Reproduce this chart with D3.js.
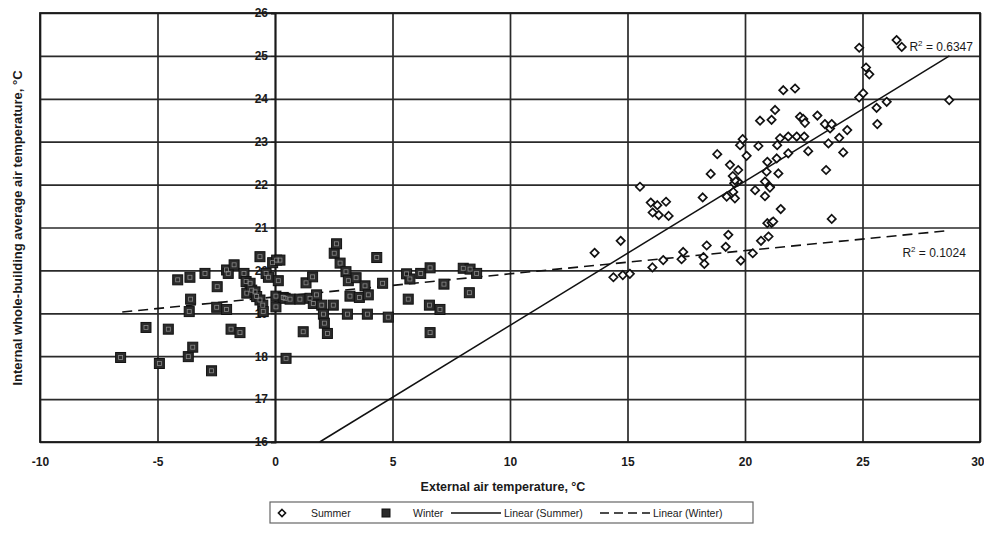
<!DOCTYPE html>
<html>
<head>
<meta charset="utf-8">
<script src="https://cdn.jsdelivr.net/npm/d3@7"></script>
<style>
    body { margin: 0; background: #fff; }
    svg { font-family: 'Liberation Sans', Arial, sans-serif; }
</style>
</head>
<body>
<svg id="chart" width="984" height="533"></svg>
<script>
// Summer points [external, internal]
const summerData = [
    [13.6, 20.41], [14.71, 20.69], [14.4, 19.84], [14.8, 19.89], [15.1, 19.92],
    [15.53, 21.95], [15.99, 21.58], [16.27, 21.52], [16.64, 21.6], [16.07, 21.35],
    [16.33, 21.29], [16.75, 21.27], [16.06, 20.07], [16.52, 20.24], [17.3, 20.26],
    [17.37, 20.43], [18.2, 21.7], [18.23, 20.31], [18.27, 20.15], [18.37, 20.58],
    [18.54, 22.25], [18.82, 22.71], [19.18, 20.55], [19.29, 20.83], [19.22, 21.72],
    [19.5, 21.83], [19.57, 21.68], [19.7, 22.07], [19.54, 22.03], [19.57, 22.1],
    [19.48, 22.2], [19.71, 22.34], [19.36, 22.46], [19.79, 22.92], [19.9, 23.06],
    [19.82, 20.23], [20.07, 22.67], [20.33, 20.4], [20.43, 21.87], [20.57, 22.9],
    [20.64, 23.49], [20.68, 20.69], [20.85, 21.73], [20.85, 22.07], [20.92, 22.3],
    [20.95, 22.53], [20.95, 21.1], [21.0, 20.79], [21.06, 21.95], [21.06, 21.93],
    [21.13, 21.11], [21.13, 23.51], [21.2, 21.14], [21.28, 23.74], [21.35, 22.61],
    [21.37, 22.92], [21.42, 22.26], [21.49, 23.08], [21.52, 21.43], [21.63, 24.2],
    [21.84, 23.12], [21.84, 22.73], [22.13, 24.24], [22.2, 23.12], [22.34, 23.58],
    [22.48, 23.53], [22.52, 23.12], [22.55, 23.44], [22.69, 22.78], [23.08, 23.61],
    [23.4, 23.41], [23.45, 22.34], [23.55, 22.96], [23.62, 23.31], [23.69, 23.41],
    [23.69, 21.2], [24.01, 23.09], [24.18, 22.75], [24.35, 23.27], [24.86, 25.19],
    [24.86, 24.03], [25.03, 24.13], [25.15, 24.73], [25.29, 24.57], [25.6, 23.79],
    [25.63, 23.41], [26.03, 23.93], [26.45, 25.37], [26.67, 25.21], [28.69, 23.97]
];

// Winter points [external, internal]
const winterData = [
    [-6.57, 17.97], [-5.49, 18.67], [-4.92, 17.83], [-4.54, 18.63], [-4.14, 19.78],
    [-3.69, 17.99], [-3.65, 19.04], [-3.62, 19.84], [-3.59, 19.33], [-3.5, 18.21],
    [-2.98, 19.93], [-2.7, 17.66], [-2.48, 19.14], [-2.46, 19.62], [-2.06, 19.09],
    [-2.06, 20.01], [-1.99, 19.93], [-1.87, 18.63], [-1.74, 20.13], [-1.49, 18.55],
    [-1.32, 19.93], [-1.23, 19.74], [-1.2, 19.47], [-1.06, 19.7], [-0.99, 19.54],
    [-0.85, 19.5], [-0.78, 19.39], [-0.64, 19.31], [-0.64, 20.32], [-0.52, 19.19],
    [-0.5, 19.04], [-0.38, 19.93], [-0.28, 19.84], [-0.1, 20.18], [0.04, 19.4],
    [0.04, 19.15], [0.07, 20.24], [0.14, 19.76], [0.21, 20.24], [0.35, 19.37],
    [0.43, 19.35], [0.47, 17.95], [0.64, 19.33], [1.06, 19.33], [1.2, 18.57],
    [1.32, 19.71], [1.49, 19.35], [1.6, 19.85], [1.63, 19.23], [1.77, 19.43],
    [1.99, 19.19], [2.06, 18.98], [2.1, 18.77], [2.23, 18.53], [2.48, 19.19],
    [2.52, 20.4], [2.62, 20.62], [2.77, 20.17], [3.02, 19.97], [3.08, 18.98],
    [3.12, 19.76], [3.19, 19.4], [3.45, 19.83], [3.59, 19.37], [3.83, 19.64],
    [3.93, 18.98], [3.97, 19.43], [4.33, 20.3], [4.58, 19.7], [4.82, 18.91],
    [5.6, 19.92], [5.67, 19.33], [5.74, 19.8], [6.2, 19.93], [6.57, 19.19],
    [6.6, 20.06], [6.6, 18.55], [7.02, 19.09], [7.19, 19.68], [8.01, 20.05],
    [8.27, 19.48], [8.3, 20.03], [8.58, 19.93]
];

// Trendline end points
const summerTrend = [[1.9, 16], [28.7, 25.0]];
const winterTrend = [[-6.5, 19.03], [28.7, 20.93]];
const rSquared = ['0.6347', '0.1024'];

const xTicks = [-10, -5, 0, 5, 10, 15, 20, 25, 30];
const yTicks = [16, 17, 18, 19, 20, 21, 22, 23, 24, 25, 26];

const legendItems = ['Summer', 'Winter', 'Linear (Summer)', 'Linear (Winter)'];

const svg = d3.select('#chart');
const PLOT = { left: 40, right: 980, top: 13, bottom: 442 };
const FONT = "'Liberation Sans', Arial, sans-serif";

let xScale = d3.scaleLinear().domain([-10, 30]).range([PLOT.left, PLOT.right]);
let yScale = d3.scaleLinear().domain([16, 26]).range([PLOT.bottom, PLOT.top]);

// gridlines
svg.append('g')
    .attr('transform', `translate(${PLOT.left},0)`)
    .call(d3.axisLeft(yScale).tickValues(yTicks).tickSize(-(PLOT.right - PLOT.left)).tickFormat(''))
    .call(g => g.select('.domain').remove())
    .call(g => g.selectAll('line').attr('stroke', '#2a2a2a').attr('stroke-width', 1.7));

svg.append('g')
    .attr('transform', `translate(0,${PLOT.bottom})`)
    .call(d3.axisBottom(xScale).tickValues(xTicks).tickSize(-(PLOT.bottom - PLOT.top)).tickFormat(''))
    .call(g => g.select('.domain').remove())
    .call(g => g.selectAll('line').attr('stroke', '#2a2a2a').attr('stroke-width', 1.7));

svg.append('rect')
    .attr('x', PLOT.left).attr('y', PLOT.top)
    .attr('width', PLOT.right - PLOT.left).attr('height', PLOT.bottom - PLOT.top)
    .attr('fill', 'none').attr('stroke', '#1a1a1a').attr('stroke-width', 1.8);

// y axis sits on x = 0
svg.append('g')
    .attr('transform', `translate(${xScale(0)},0)`)
    .call(d3.axisLeft(yScale).tickValues(yTicks).tickSize(4).tickPadding(3))
    .call(g => g.select('.domain').attr('stroke', '#1a1a1a').attr('stroke-width', 1.8))
    .call(g => g.selectAll('line').attr('stroke', '#1a1a1a'))
    .call(g => g.selectAll('text').attr('font-size', 12).attr('font-weight', 'bold').attr('fill', '#1a1a1a')
        .attr('font-family', FONT));

svg.append('g')
    .attr('transform', `translate(0,${PLOT.bottom})`)
    .call(d3.axisBottom(xScale).tickValues(xTicks).tickSize(0).tickPadding(15).tickFormat(d => String(d)))
    .call(g => g.select('.domain').remove())
    .call(g => g.selectAll('text').attr('font-size', 12).attr('font-weight', 'bold').attr('fill', '#1a1a1a')
        .attr('font-family', FONT))
    .call(g => g.selectAll('text').filter(d => d === 30).attr('text-anchor', 'end').attr('dx', 4));

// trendlines
let line = d3.line().x(d => xScale(d[0])).y(d => yScale(d[1]));

svg.append('path')
    .datum(summerTrend)
    .attr('d', line)
    .attr('fill', 'none').attr('stroke', '#111').attr('stroke-width', 1.5);

svg.append('path')
    .datum(winterTrend)
    .attr('d', line)
    .attr('fill', 'none').attr('stroke', '#111').attr('stroke-width', 1.6)
    .attr('stroke-dasharray', '10,6');

// winter squares
let winter = svg.append('g');
winter.selectAll('rect.outer')
    .data(winterData)
    .join('rect')
    .attr('class', 'outer')
    .attr('x', d => xScale(d[0]) - 5)
    .attr('y', d => yScale(d[1]) - 5)
    .attr('width', 10).attr('height', 10)
    .attr('fill', '#2b2b2b')
    .attr('stroke', '#111').attr('stroke-width', 1);

winter.selectAll('rect.inner')
    .data(winterData)
    .join('rect')
    .attr('class', 'inner')
    .attr('x', d => xScale(d[0]) - 2)
    .attr('y', d => yScale(d[1]) - 2)
    .attr('width', 4).attr('height', 4)
    .attr('fill', 'none')
    .attr('stroke', '#8a8a8a').attr('stroke-width', 0.8);

// summer diamonds
let diamond = d3.symbol().type(d3.symbolDiamond2).size(44);
svg.append('g')
    .selectAll('path')
    .data(summerData)
    .join('path')
    .attr('d', diamond)
    .attr('transform', d => `translate(${xScale(d[0])},${yScale(d[1])})`)
    .attr('fill', 'white')
    .attr('stroke', '#111').attr('stroke-width', 1.7);

// R squared labels
let rLabels = [[29.7, 25.11], [29.4, 20.31]];
svg.append('g')
    .selectAll('text')
    .data(rSquared)
    .join('text')
    .attr('x', (d, i) => xScale(rLabels[i][0]))
    .attr('y', (d, i) => yScale(rLabels[i][1]))
    .attr('text-anchor', 'end').attr('font-size', 12).attr('fill', '#1a1a1a')
    .html(d => `R<tspan dy="-5" font-size="8">2</tspan><tspan dy="5"> = ${d}</tspan>`);

// axis titles
svg.append('text')
    .attr('x', 503).attr('y', 491)
    .attr('text-anchor', 'middle').attr('font-size', 12.5).attr('font-weight', 'bold').attr('fill', '#1a1a1a')
    .text('External air temperature, °C');

svg.append('text')
    .attr('transform', 'translate(22,228) rotate(-90)')
    .attr('text-anchor', 'middle').attr('font-size', 13).attr('font-weight', 'bold').attr('fill', '#1a1a1a')
    .text('Internal whole-building average air temperature, °C');

// legend
let legend = svg.append('g').attr('transform', 'translate(270,502)');
legend.append('rect')
    .attr('width', 483).attr('height', 21)
    .attr('fill', 'white').attr('stroke', '#666').attr('stroke-width', 1.2);

let legendX = [41, 143, 234, 383];
legendItems.forEach((name, i) => {
    let g = legend.append('g').attr('transform', `translate(${legendX[i]},11)`);
    if (i === 0) {
        g.append('path').attr('d', d3.symbol().type(d3.symbolDiamond2).size(32))
            .attr('transform', 'translate(-29,0)')
            .attr('fill', 'white').attr('stroke', '#111').attr('stroke-width', 1.6);
    } else if (i === 1) {
        g.append('rect').attr('x', -31).attr('y', -4).attr('width', 8).attr('height', 8)
            .attr('fill', '#2b2b2b').attr('stroke', '#111');
    } else {
        g.append('line').attr('x1', -53).attr('x2', -3).attr('y1', 0).attr('y2', 0)
            .attr('stroke', '#111').attr('stroke-width', 1.3)
            .attr('stroke-dasharray', i === 3 ? '9,5' : null);
    }
    g.append('text').attr('x', 0).attr('y', 4)
        .attr('font-size', 10.5).attr('fill', '#1a1a1a')
        .text(name);
});
</script>
</body>
</html>
